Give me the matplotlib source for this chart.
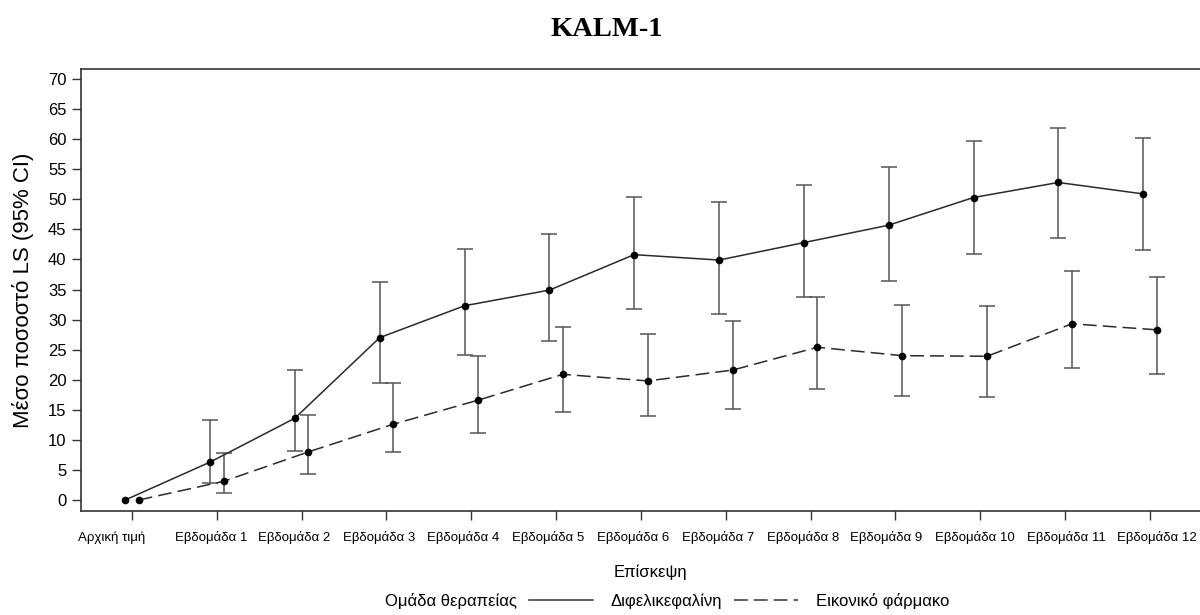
import numpy as np
import matplotlib
matplotlib.use("Agg")
from matplotlib import pyplot as plt
from matplotlib.lines import Line2D
from matplotlib.transforms import ScaledTranslation

# visits on the x axis
visits = ["Αρχική τιμή", "Εβδομάδα 1", "Εβδομάδα 2", "Εβδομάδα 3", "Εβδομάδα 4",
          "Εβδομάδα 5", "Εβδομάδα 6", "Εβδομάδα 7", "Εβδομάδα 8", "Εβδομάδα 9",
          "Εβδομάδα 10", "Εβδομάδα 11", "Εβδομάδα 12"]

# Difelikefalin: LS mean % and 95% CI
dif_mean = [0, 6.3, 13.6, 27.0, 32.3, 34.9, 40.8, 39.9, 42.8, 45.7, 50.3, 52.8, 50.9]
dif_low = [0, 2.8, 8.2, 19.4, 24.1, 26.5, 31.8, 30.9, 33.8, 36.4, 40.9, 43.5, 41.6]
dif_high = [0, 13.3, 21.6, 36.3, 41.8, 44.2, 50.4, 49.5, 52.3, 55.3, 59.7, 61.9, 60.2]

# placebo: LS mean % and 95% CI
pbo_mean = [0, 3.1, 8.0, 12.6, 16.6, 20.9, 19.8, 21.6, 25.4, 24.0, 23.9, 29.3, 28.3]
pbo_low = [0, 1.2, 4.3, 8.0, 11.2, 14.7, 13.9, 15.2, 18.5, 17.3, 17.2, 21.9, 21.0]
pbo_high = [0, 7.8, 14.1, 19.4, 24.0, 28.8, 27.6, 29.8, 33.8, 32.4, 32.3, 38.1, 37.1]

group_title = "Ομάδα θεραπείας"
group_names = ["Διφελικεφαλίνη", "Εικονικό φάρμακο"]

plt.rcParams['font.family'] = ['Liberation Sans', 'DejaVu Sans']

fig = plt.figure(figsize=(12, 6.15), dpi=100)
ax = fig.add_axes([81/1200, 1-511/615, 1-81/1200, (511-69)/615])

x = np.arange(len(visits))
off = 0.08
dash = (0, (9, 4))

def draw(xs, mean, low, high, ls):
  mean = np.array(mean)
  err = [mean-np.array(low), np.array(high)-mean]
  # no error bar at baseline
  err[0][0] = np.nan
  err[1][0] = np.nan
  ax.errorbar(xs, mean, yerr=err, fmt='none', ecolor='#555555',
              elinewidth=1.1, capsize=6, capthick=1.1, zorder=2)
  ax.plot(xs, mean, color='#2a2a2a', lw=1.1, linestyle=ls, zorder=3)
  ax.plot(xs, mean, 'o', color='black', ms=4.5, zorder=4)

draw(x-off, dif_mean, dif_low, dif_high, '-')
draw(x+off, pbo_mean, pbo_low, pbo_high, dash)

ax.set_xlim(-0.601, 12.59)
ax.set_ylim(-1.83, 71.67)
ax.set_yticks(np.arange(0, 71, 5))
ax.set_xticks(x)
ax.set_xticklabels(visits, fontsize=9.5)
ax.tick_params(axis='y', labelsize=12, length=6.5, width=1, pad=4, color='#333333')
ax.tick_params(axis='x', length=6.5, width=1, pad=8, color='#333333')
for s in ['left', 'bottom', 'top']:
  ax.spines[s].set_color('#333333')
  ax.spines[s].set_linewidth(1.2)
ax.spines['right'].set_visible(False)

# the labels sit a little off their ticks in the original
shift = [-20, -6, -8, -7.5, -8, -8, -8, -8, -8, -9, -5, 1, 7]
for lab, dx in zip(ax.get_xticklabels(), shift):
  lab.set_transform(lab.get_transform() + ScaledTranslation(dx/100, 0, fig.dpi_scale_trans))

ax.set_xlabel("Επίσκεψη", fontsize=12, va='center')
ax.xaxis.set_label_coords((650-81)/1119, (511-572)/442)
ax.set_ylabel("Μέσο ποσοστό LS (95% CI)", fontsize=16, va='center')
ax.yaxis.set_label_coords((23-81)/1119, 0.5)

fig.text(607/1200, 1-30/615, "KALM-1", fontsize=20.5, fontweight='bold',
         family='Liberation Serif', ha='center', va='center')

handles = [Line2D([], [], ls='none'),
           Line2D([], [], color='#333333', lw=1.1),
           Line2D([], [], color='#333333', lw=1.1, linestyle=dash)]
fig.legend(handles, [group_title]+group_names, loc='center left',
           bbox_to_anchor=(303/1200, 1-601/615), ncol=3, frameon=False,
           fontsize=12, handlelength=3.84, handletextpad=1.08,
           columnspacing=0.7, borderpad=0, borderaxespad=0)

fig.savefig("out.png", dpi=100)
